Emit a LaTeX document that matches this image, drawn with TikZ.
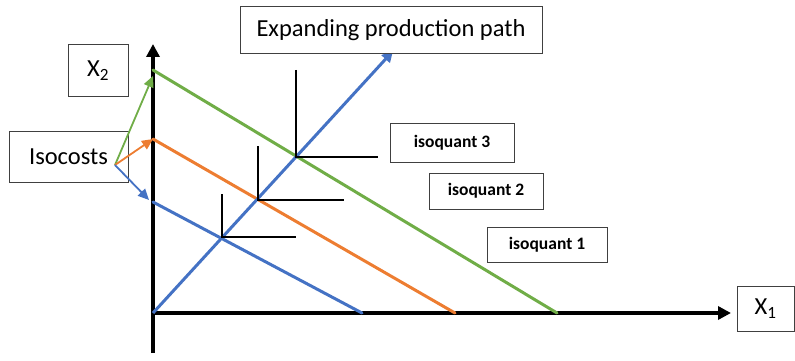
\documentclass[tikz,border=0pt]{standalone}
\usepackage{fontspec}
\setmainfont{Carlito}
\usetikzlibrary{arrows.meta}
\definecolor{cblue}{HTML}{4472C4}
\definecolor{corange}{HTML}{ED7D31}
\definecolor{cgreen}{HTML}{70AD47}
\definecolor{cframe}{HTML}{404040}
\tikzset{
  labelbox/.style={draw=cframe, line width=1pt, fill=white, inner sep=0pt, align=center},
  bigtext/.style={font=\fontsize{24.5}{28}\selectfont},
  smalltext/.style={font=\bfseries\fontsize{17.5}{20}\selectfont},
  axisline/.style={line width=3.5pt, black, -{Triangle[length=13pt,width=13pt]}},
  costline/.style={line width=3pt},
  isoq/.style={line width=2.2pt, black},
  pointer/.style={line width=1.8pt, -{Triangle[length=11pt,width=10pt]}},
}
\begin{document}
\begin{tikzpicture}[x=1pt,y=-1pt]
\useasboundingbox (0,0) rectangle (795,361);

% axes
\coordinate (O) at (153,313);
\coordinate (ybot) at (153,353);
\coordinate (ytop) at (153,44);
\coordinate (xend) at (731,313);
\draw[axisline] (ybot) -- (ytop);
\draw[axisline] (O) -- (xend);

% isocost lines
\coordinate (g0) at (153,70);   \coordinate (g1) at (557,313);
\coordinate (o0) at (153,139);  \coordinate (o1) at (455,313);
\coordinate (b0) at (153,202);  \coordinate (b1) at (362,313);
\draw[costline, cgreen, line cap=round] (g0) -- (g1);
\draw[costline, corange, line cap=round] (o0) -- (o1);
\draw[costline, cblue, line cap=round] (b0) -- (b1);

% expansion path
\coordinate (ptip) at (393,51);
\draw[line width=3pt, cblue, -{Triangle[length=11pt,width=11pt]}] (O) -- (ptip);

% right-angled isoquants
\coordinate (c1) at (222,237);
\coordinate (c1u) at (222,194);
\coordinate (c1r) at (296,237);
\coordinate (c2) at (258,200);
\coordinate (c2u) at (258,146);
\coordinate (c2r) at (344,200);
\coordinate (c3) at (296,157);
\coordinate (c3u) at (296,70);
\coordinate (c3r) at (378,157);
\draw[isoq] (c1u) -- (c1) -- (c1r);
\draw[isoq] (c2u) -- (c2) -- (c2r);
\draw[isoq] (c3u) -- (c3) -- (c3r);

% label boxes
\node[labelbox, bigtext, minimum width=60pt, minimum height=51pt] (x2) at (98,70.5) {X\textsubscript{2}};
\node[labelbox, bigtext, minimum width=119pt, minimum height=51pt] (iso) at (68.5,156.5) {Isocosts};
\node[labelbox, bigtext, minimum width=302pt, minimum height=47pt] (path) at (391,30.5) {Expanding production path};
\node[labelbox, smalltext, minimum width=124pt, minimum height=39pt] (q3) at (452,142.5) {isoquant 3};
\node[labelbox, smalltext, minimum width=114pt, minimum height=36pt] (q2) at (486,191) {isoquant 2};
\node[labelbox, smalltext, minimum width=120pt, minimum height=35pt] (q1) at (547,244.5) {isoquant 1};
\node[labelbox, bigtext, minimum width=57pt, minimum height=45pt] (x1) at (765.5,309) {X\textsubscript{1}};

% pointers from the isocost label
\coordinate (src) at (115,165);
\coordinate (tg) at (153,76);
\coordinate (to) at (153,139);
\coordinate (tb) at (149,200);
\draw[pointer, cgreen] (src) -- (tg);
\draw[pointer, corange] (src) -- (to);
\draw[pointer, cblue] (src) -- (tb);
\end{tikzpicture}
\end{document}
